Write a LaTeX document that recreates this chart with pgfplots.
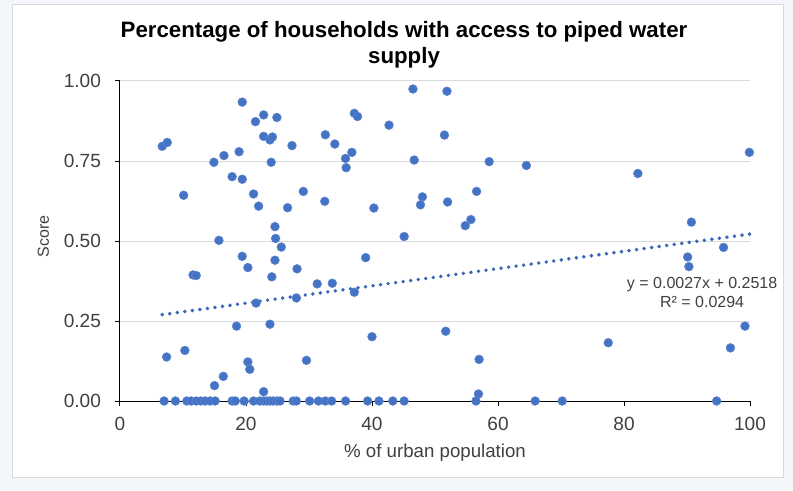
\documentclass[border=0pt]{standalone}
\usepackage{fontspec}
\setmainfont{Liberation Sans}
\usepackage{pgfplots}
\pgfplotsset{compat=1.18}
\definecolor{bgblue}{HTML}{F3F7FB}
\definecolor{framegray}{HTML}{D9D9D9}
\definecolor{gridgray}{HTML}{D9D9D9}
\definecolor{dotblue}{HTML}{4472C4}
\definecolor{trendblue}{HTML}{3A66B8}
\definecolor{txt}{HTML}{404040}
\pgfplotstableread{
x y
6.7 0.796
7.5 0.808
10.1 0.643
19.4 0.934
21.5 0.873
22.8 0.894
24.9 0.886
22.8 0.827
23.8 0.816
24.2 0.825
27.3 0.798
32.6 0.832
34.1 0.803
37.2 0.899
37.7 0.889
36.8 0.777
35.8 0.758
35.9 0.729
14.9 0.746
16.5 0.767
18.9 0.779
24.0 0.746
17.8 0.701
19.4 0.693
21.2 0.647
22.0 0.609
26.6 0.604
29.1 0.655
32.5 0.624
24.6 0.545
24.7 0.508
25.6 0.481
15.7 0.502
46.5 0.975
51.9 0.968
42.7 0.862
51.5 0.831
46.7 0.753
58.6 0.748
64.5 0.736
48.0 0.638
47.7 0.613
52.0 0.622
40.3 0.603
56.6 0.655
55.7 0.567
54.8 0.548
45.1 0.514
99.9 0.777
82.2 0.711
90.7 0.559
95.8 0.480
90.1 0.450
90.3 0.420
99.2 0.234
77.5 0.182
96.9 0.166
19.4 0.452
20.3 0.417
24.6 0.440
24.1 0.388
28.1 0.413
11.6 0.394
12.1 0.392
31.3 0.366
33.7 0.368
37.2 0.340
21.6 0.306
28.0 0.322
18.5 0.234
23.8 0.240
7.4 0.1375
10.3 0.158
29.6 0.127
20.3 0.122
20.6 0.099
16.4 0.077
15.0 0.048
22.8 0.029
39.0 0.448
40.0 0.201
51.7 0.218
57.0 0.130
56.9 0.022
7.0 0
8.8 0
10.6 0
11.3 0
12.1 0
12.8 0
13.5 0
14.3 0
15.1 0
17.8 0
18.3 0
19.7 0
21.2 0
22.2 0
22.8 0
23.3 0
23.8 0
24.3 0
24.9 0
25.4 0
27.5 0
28.0 0
30.1 0
31.5 0
32.6 0
33.6 0
35.8 0
39.3 0
41.1 0
43.3 0
45.1 0
56.5 0
65.9 0
70.2 0
94.7 0
}\datatable
\begin{document}
\begin{tikzpicture}
\fill[bgblue] (0,0) rectangle (594.75pt,367.5pt);
\filldraw[fill=white, draw=framegray, line width=0.75pt] (9pt,9.75pt) rectangle (587.25pt,363.75pt);
\node[font=\fontsize{16.7}{20}\selectfont\bfseries, anchor=base, inner sep=0pt] at (303pt,339pt) {Percentage of households with access to piped water};
\node[font=\fontsize{16.7}{20}\selectfont\bfseries, anchor=base, inner sep=0pt] at (303pt,319.5pt) {supply};
\begin{axis}[
  at={(90pt,66.75pt)}, anchor=south west,
  width=472.5pt, height=240pt, scale only axis,
  xmin=0, xmax=100, ymin=0, ymax=1,
  xtick={0,20,40,60,80,100},
  ytick={0,0.25,0.5,0.75,1},
  axis lines*=left,
  axis line style={black, line width=0.75pt},
  tick style={black, line width=0.75pt},
  major tick length=3.75pt,
  tick align=outside,
  ymajorgrids,
  grid style={gridgray, line width=0.75pt},
  clip=false,
  /pgf/number format/assume math mode=true,
  yticklabel style={/pgf/number format/fixed, /pgf/number format/fixed zerofill, /pgf/number format/precision=2, xshift=-7pt},
  xticklabel style={yshift=-5pt},
  ticklabel style={font=\fontsize{14.3}{17}\selectfont, text=txt},
  xlabel={\% of urban population},
  ylabel={Score},
  xlabel style={at={(axis description cs:0.5,-0.178)}, anchor=base, font=\fontsize{14}{16}\selectfont, text=txt, inner sep=0pt},
  ylabel style={at={(axis description cs:-0.1217,0.515)}, anchor=center, font=\fontsize{12}{14}\selectfont, text=txt, inner sep=0pt},
]
\addplot[trendblue, line width=2.9pt, line cap=round, dash pattern=on 0pt off 5.7pt] coordinates {(6.7,0.2699) (100,0.5218)};
\addplot[only marks, mark=*, mark size=3.3pt, mark options={fill=dotblue, draw=dotblue!85!white, line width=0.4pt}] table[x=x, y=y] {\datatable};
\node[align=center, font=\fontsize{12}{14.25}\selectfont, text=txt] at (axis cs:92.4,0.339) {y = 0.0027x + 0.2518\\R² = 0.0294};
\end{axis}
\end{tikzpicture}
\end{document}
